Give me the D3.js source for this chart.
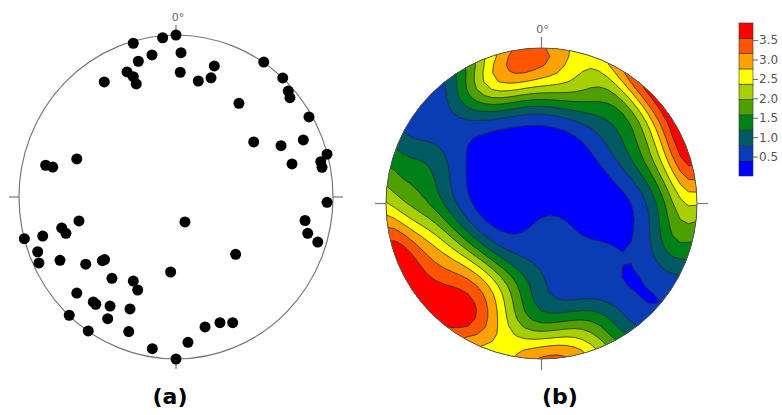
<!DOCTYPE html>
<html lang="en">
<head>
<meta charset="UTF-8">
<title>Stereonet poles and density</title>
<script src="https://d3js.org/d3.v7.min.js"></script>
<style>
  body { margin: 0; background: #fff; }
  svg { display: block; }
</style>
</head>
<body>
<div id="chart"></div>
<script>
// pole positions in net units (east, north), equal-area lower hemisphere
const poleE = [-0.272,-0.085,0.000,0.032,-0.153,-0.240,0.027,-0.312,-0.272,-0.253,
  -0.457,0.142,0.244,0.223,0.401,0.559,0.680,0.715,0.726,0.847,
  0.495,0.669,0.811,0.739,0.962,0.922,0.930,0.962,-0.632,-0.830,
  -0.785,-0.618,0.057,0.822,0.839,0.903,0.380,-0.728,-0.701,-0.849,
  -0.966,-0.881,-0.873,-0.739,-0.575,-0.469,-0.455,-0.034,-0.408,-0.272,
  -0.244,-0.632,-0.527,-0.511,-0.420,-0.293,-0.435,-0.680,-0.559,-0.301,
  -0.151,0.076,0.000,0.185,0.280,0.361];
const poleN = [0.949,0.983,1.000,0.891,0.877,0.838,0.770,0.772,0.743,0.698,
  0.710,0.716,0.809,0.736,0.578,0.833,0.735,0.654,0.613,0.494,
  0.340,0.317,0.352,0.204,0.264,0.218,0.183,-0.033,0.235,0.196,
  0.185,-0.148,-0.154,-0.145,-0.224,-0.278,-0.354,-0.191,-0.224,-0.241,
  -0.257,-0.338,-0.407,-0.391,-0.415,-0.393,-0.386,-0.463,-0.502,-0.519,
  -0.574,-0.593,-0.648,-0.662,-0.673,-0.691,-0.751,-0.730,-0.827,-0.831,
  -0.936,-0.897,-1.000,-0.802,-0.776,-0.776];

// density scale: peak of the contoured field, 10 equal bands
const legendMax = 3.94;
const bandCount = 10;
const legendTicks = [0.5, 1.0, 1.5, 2.0, 2.5, 3.0, 3.5];
const bandColors = ["#0000ff","#0a3cb4","#005a64","#008018","#4ea000",
  "#a6d000","#ffff00","#ffa200","#ff5500","#ff0000"];

const W = 782, H = 415;
const svg = d3.select("#chart").append("svg").attr("width", W).attr("height", H);

// (a) scatter of poles
const xa = d3.scaleLinear().domain([-1, 1]).range([19, 333]);
const ya = d3.scaleLinear().domain([-1, 1]).range([359, 35]);
const ga = svg.append("g");
ga.append("ellipse")
  .attr("cx", xa(0)).attr("cy", ya(0))
  .attr("rx", xa(1) - xa(0)).attr("ry", ya(-1) - ya(0))
  .attr("fill", "none").attr("stroke", "#777").attr("stroke-width", 1.2);

function ticks(g, x, y, len) {
  const t = [[x(0), y(1), x(0), y(1) - len], [x(0), y(-1), x(0), y(-1) + len],
             [x(-1), y(0), x(-1) - len, y(0)], [x(1), y(0), x(1) + len, y(0)]];
  g.selectAll("line.tk").data(t).enter().append("line")
    .attr("x1", d => d[0]).attr("y1", d => d[1]).attr("x2", d => d[2]).attr("y2", d => d[3])
    .attr("stroke", "#777").attr("stroke-width", 1.2);
}
ticks(ga, xa, ya, 10);
ga.append("text").attr("x", xa(0) + 2).attr("y", ya(1) - 14)
  .attr("text-anchor", "middle").attr("font-family", "DejaVu Sans, sans-serif")
  .attr("font-size", 11).attr("fill", "#666").text("0°");

ga.selectAll("circle.pole").data(d3.range(poleE.length)).enter().append("circle")
  .attr("cx", i => xa(poleE[i])).attr("cy", i => ya(poleN[i]))
  .attr("r", 5.5).attr("fill", "#000");

// (b) density contours (Fisher kernel, axial, on a grid over the net)
function toVec(e, n) {
  let r = Math.min(Math.hypot(e, n), 1);
  const th = 2 * Math.asin(r / Math.SQRT2);
  const az = Math.atan2(e, n);
  const s = Math.sin(th);
  return [s * Math.sin(az), s * Math.cos(az), -Math.cos(th)];
}
const poles = poleE.map((e, i) => toVec(e, poleN[i]));
const kappa = 19;
const nx = 41, lo = -1.05, step = 2.1 / (nx - 1);
const values = new Array(nx * nx);
for (let j = 0; j < nx; j++) {
  for (let i = 0; i < nx; i++) {
    const v = toVec(lo + i * step, -lo - j * step);
    let d = 0;
    poles.forEach(p => {
      const c = Math.abs(p[0] * v[0] + p[1] * v[1] + p[2] * v[2]);
      d += Math.exp(kappa * (c - 1));
    });
    values[j * nx + i] = d;
  }
}
const peak = d3.max(values);
for (let k = 0; k < values.length; k++) values[k] = values[k] / peak * legendMax;

const thresholds = d3.range(bandCount).map(i => i * legendMax / bandCount);
const xb = d3.scaleLinear().domain([-1, 1]).range([386, 697]);
const yb = d3.scaleLinear().domain([-1, 1]).range([359, 48]);
const gridX = u => xb(lo + (u - 0.5) * step);
const gridY = v => yb(-lo - (v - 0.5) * step);
const proj = d3.geoTransform({ point: function(u, v) { this.stream.point(gridX(u), gridY(v)); } });
const path = d3.geoPath(proj);

const gb = svg.append("g");
gb.append("clipPath").attr("id", "net")
  .append("circle").attr("cx", xb(0)).attr("cy", yb(0)).attr("r", xb(1) - xb(0));
const contours = d3.contours().size([nx, nx]).thresholds(thresholds)(values);
gb.append("g").attr("clip-path", "url(#net)")
  .selectAll("path").data(contours).enter().append("path")
  .attr("d", path)
  .attr("fill", (d, i) => bandColors[i])
  .attr("stroke", (d, i) => i === 0 ? "none" : "#2a2a2a")
  .attr("stroke-width", 0.8)
  .attr("stroke-linejoin", "round");
gb.append("circle").attr("cx", xb(0)).attr("cy", yb(0)).attr("r", xb(1) - xb(0))
  .attr("fill", "none").attr("stroke", "#555").attr("stroke-width", 1);
ticks(gb, xb, yb, 11);
gb.append("text").attr("x", xb(0) + 1).attr("y", yb(1) - 15)
  .attr("text-anchor", "middle").attr("font-family", "DejaVu Sans, sans-serif")
  .attr("font-size", 11).attr("fill", "#666").text("0°");

// legend
const yl = d3.scaleLinear().domain([0, legendMax]).range([176, 23]);
const gl = svg.append("g");
gl.selectAll("rect").data(thresholds).enter().append("rect")
  .attr("x", 739).attr("width", 14)
  .attr("y", d => yl(d + legendMax / bandCount))
  .attr("height", d => yl(d) - yl(d + legendMax / bandCount))
  .attr("fill", (d, i) => bandColors[i])
  .attr("stroke", "#333").attr("stroke-width", 0.6);
gl.append("g").attr("transform", "translate(753,0)")
  .call(d3.axisRight(yl).tickValues(legendTicks).tickFormat(d3.format(".1f")).tickSize(5).tickPadding(1))
  .call(g => g.select(".domain").remove())
  .call(g => g.selectAll("line").attr("stroke", "#666"))
  .call(g => g.selectAll("text").attr("fill", "#555")
    .attr("font-family", "DejaVu Sans, sans-serif").attr("font-size", 12));

// panel labels
svg.selectAll("text.lab").data([["(a)", 170], ["(b)", 560]]).enter().append("text")
  .attr("x", d => d[1]).attr("y", 404).attr("text-anchor", "middle")
  .attr("font-family", "DejaVu Sans, sans-serif").attr("font-weight", "bold")
  .attr("font-size", 22).attr("fill", "#000").text(d => d[0]);
</script>
</body>
</html>
